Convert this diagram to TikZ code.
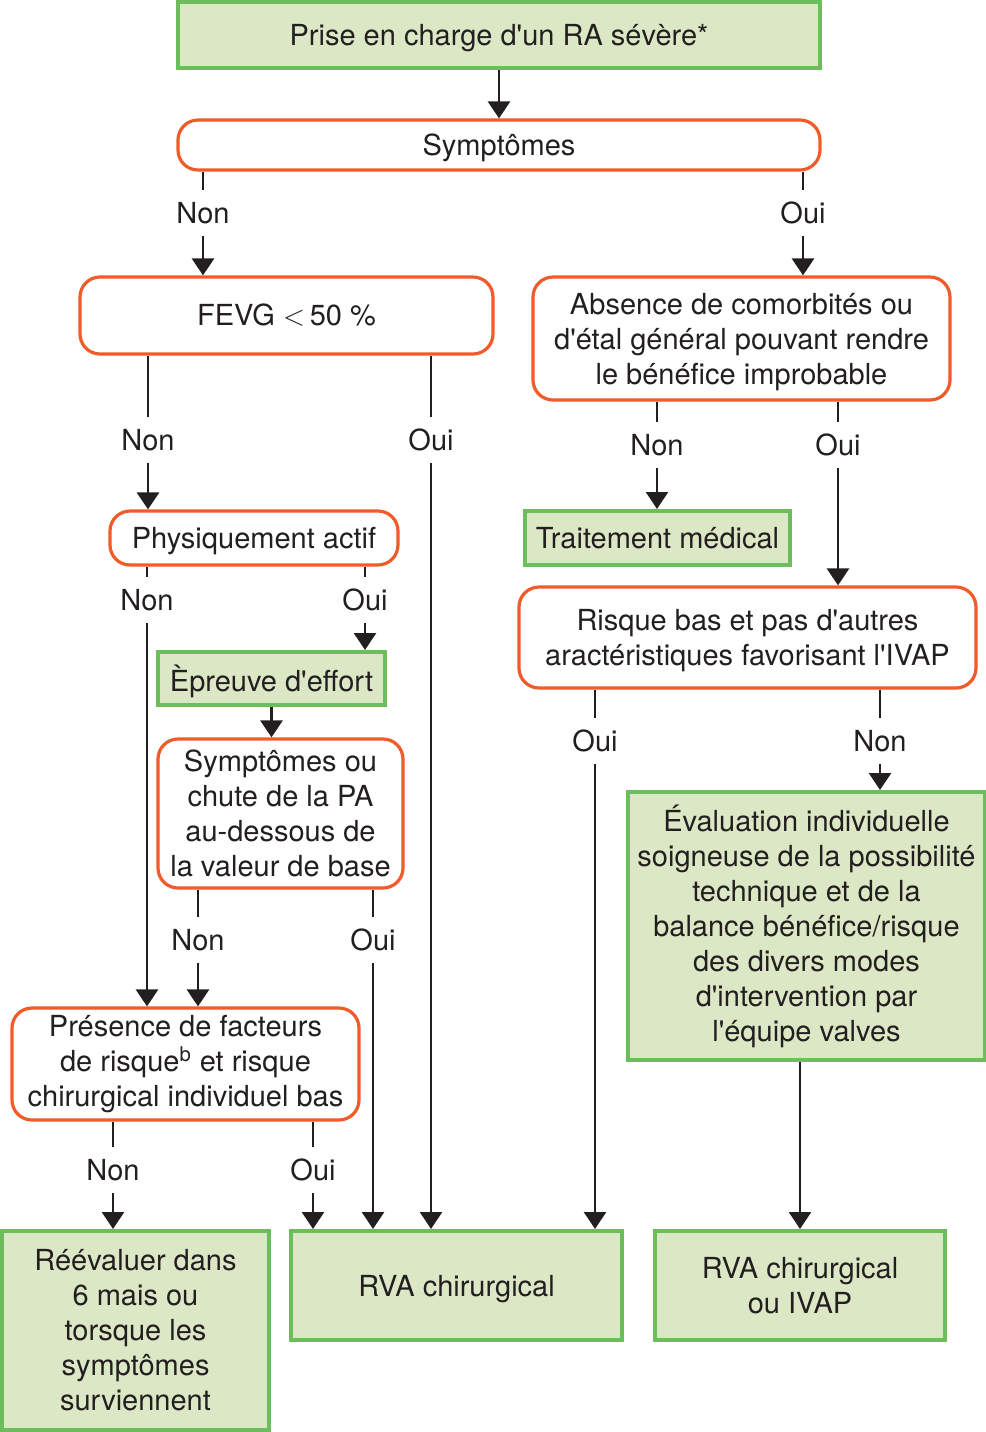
\documentclass[tikz,border=0pt]{standalone}
\usepackage{fontspec}
\setmainfont{TeX Gyre Heros}
\usetikzlibrary{arrows.meta}
\definecolor{cadrevert}{HTML}{6CBD5C}
\definecolor{fondvert}{HTML}{DCE7C5}
\definecolor{cadreorange}{HTML}{F15A29}
\definecolor{encre}{HTML}{231F20}
\newcommand{\ap}{\textquotesingle}

\tikzset{
  vert/.style={draw=cadrevert, fill=fondvert, line width=2pt, align=center, inner sep=0pt, text=encre},
  orange/.style={draw=cadreorange, fill=white, line width=1.6pt, rounded corners=10pt, align=center, inner sep=0pt, text=encre},
  ligne/.style={text depth=0pt},
  rep/.style={inner sep=0pt, minimum height=22.5pt, text=encre},
  fl/.style={draw=encre, line width=1.3pt, -{Triangle[width=11pt,length=8.5pt]}},
  tr/.style={draw=encre, line width=1.3pt},
}

\begin{document}
\begin{tikzpicture}[x=0.5pt,y=-0.5pt,font=\fontsize{14.5pt}{17.5pt}\selectfont]
  \useasboundingbox (0,0) rectangle (986,1432);

  % boites
  \node[vert, ligne, minimum width=321pt, minimum height=33pt] (prise) at (499,35) {Prise en charge d\ap un RA sévère*};
  \node[orange, ligne, minimum width=321pt, minimum height=25pt] (symp) at (499,145) {Symptômes};
  \node[orange, minimum width=206.5pt, minimum height=38.5pt] (fevg) at (286.5,315.5) {FEVG $<$\,50 \%};
  \node[orange, ligne, minimum width=208.5pt, minimum height=61.5pt] (absence) at (741.5,338.5) {Absence de comorbités ou\\d\ap étal général pouvant rendre\\le bénéfice improbable};
  \node[orange, ligne, minimum width=144pt, minimum height=27pt] (phys) at (254,538) {Physiquement actif};
  \node[vert, ligne, minimum width=132.5pt, minimum height=27pt] (trait) at (657.5,538) {Traitement médical};
  \node[vert, ligne, minimum width=113.5pt, minimum height=26.5pt] (effort) at (271.5,678.5) {Èpreuve d\ap effort};
  \node[orange, ligne, minimum width=228.5pt, minimum height=50.5pt] (risque) at (747.5,637.5) {Risque bas et pas d\ap autres\\aractéristiques favorisant l\ap IVAP};
  \node[orange, minimum width=122.5pt, minimum height=74.5pt] (sympou) at (280.5,813.5) {Symptômes ou\\chute de la PA\\au-dessous de\\la valeur de base};
  \node[vert, minimum width=178.5pt, minimum height=134pt] (eval) at (806.5,926) {Évaluation individuelle\\soigneuse de la possibilité\\technique et de la\\balance bénéfice/risque\\des divers modes\\d\ap intervention par\\l\ap équipe valves};
  \node[orange, minimum width=173.5pt, minimum height=56pt] (presence) at (185.5,1064) {Présence de facteurs\\de risque\textsuperscript{b} et risque\\chirurgical individuel bas};
  \node[vert, minimum width=133.5pt, minimum height=99.5pt] (reeval) at (135.5,1330.5) {Réévaluer dans\\6 mais ou\\torsque les\\symptômes\\surviennent};
  \node[vert, ligne, minimum width=165.5pt, minimum height=54.5pt] (rva) at (456.5,1285.5) {RVA chirurgical};
  \node[vert, minimum width=145pt, minimum height=54.5pt] (ivap) at (800,1285.5) {RVA chirurgical\\ou IVAP};

  % reponses
  \node[rep] (non1) at (203,213) {Non};
  \node[rep] (oui1) at (803,213) {Oui};
  \node[rep] (non2) at (148,440) {Non};
  \node[rep] (oui2) at (431,440) {Oui};
  \node[rep] (non3) at (657,445) {Non};
  \node[rep] (oui3) at (838,445) {Oui};
  \node[rep] (non4) at (147,600) {Non};
  \node[rep] (oui4) at (365,600) {Oui};
  \node[rep] (oui5) at (595,741) {Oui};
  \node[rep] (non5) at (880,741) {Non};
  \node[rep] (non6) at (198,940) {Non};
  \node[rep] (oui6) at (373,940) {Oui};
  \node[rep] (non7) at (113,1170) {Non};
  \node[rep] (oui7) at (313,1170) {Oui};

  % liaisons
  \draw[fl] (prise) -- (symp);
  \draw[tr] (symp.south -| non1) -- (non1);
  \draw[fl] (non1) -- (fevg.north -| non1);
  \draw[tr] (symp.south -| oui1) -- (oui1);
  \draw[fl] (oui1) -- (absence.north -| oui1);

  \draw[tr] (fevg.south -| non2) -- (non2);
  \draw[fl] (non2) -- (phys.north -| non2);
  \draw[tr] (fevg.south -| oui2) -- (oui2);
  \draw[fl] (oui2) -- (rva.north -| oui2);

  \draw[tr] (absence.south -| non3) -- (non3);
  \draw[fl] (non3) -- (trait.north -| non3);
  \draw[tr] (absence.south -| oui3) -- (oui3);
  \draw[fl] (oui3) -- (risque.north -| oui3);

  \draw[tr] (phys.south -| non4) -- (non4);
  \draw[fl] (non4) -- (presence.north -| non4);
  \draw[tr] (phys.south -| oui4) -- (oui4);
  \draw[fl] (oui4) -- (effort.north -| oui4);
  \draw[fl] (effort) -- (effort |- sympou.north);

  \draw[tr] (risque.south -| oui5) -- (oui5);
  \draw[fl] (oui5) -- (rva.north -| oui5);
  \draw[tr] (risque.south -| non5) -- (non5);
  \draw[fl] (non5) -- (eval.north -| non5);
  \draw[fl] (eval.south -| ivap) -- (ivap);

  \draw[tr] (sympou.south -| non6) -- (non6);
  \draw[fl] (non6) -- (presence.north -| non6);
  \draw[tr] (sympou.south -| oui6) -- (oui6);
  \draw[fl] (oui6) -- (rva.north -| oui6);

  \draw[tr] (presence.south -| non7) -- (non7);
  \draw[fl] (non7) -- (reeval.north -| non7);
  \draw[tr] (presence.south -| oui7) -- (oui7);
  \draw[fl] (oui7) -- (rva.north -| oui7);
\end{tikzpicture}
\end{document}
